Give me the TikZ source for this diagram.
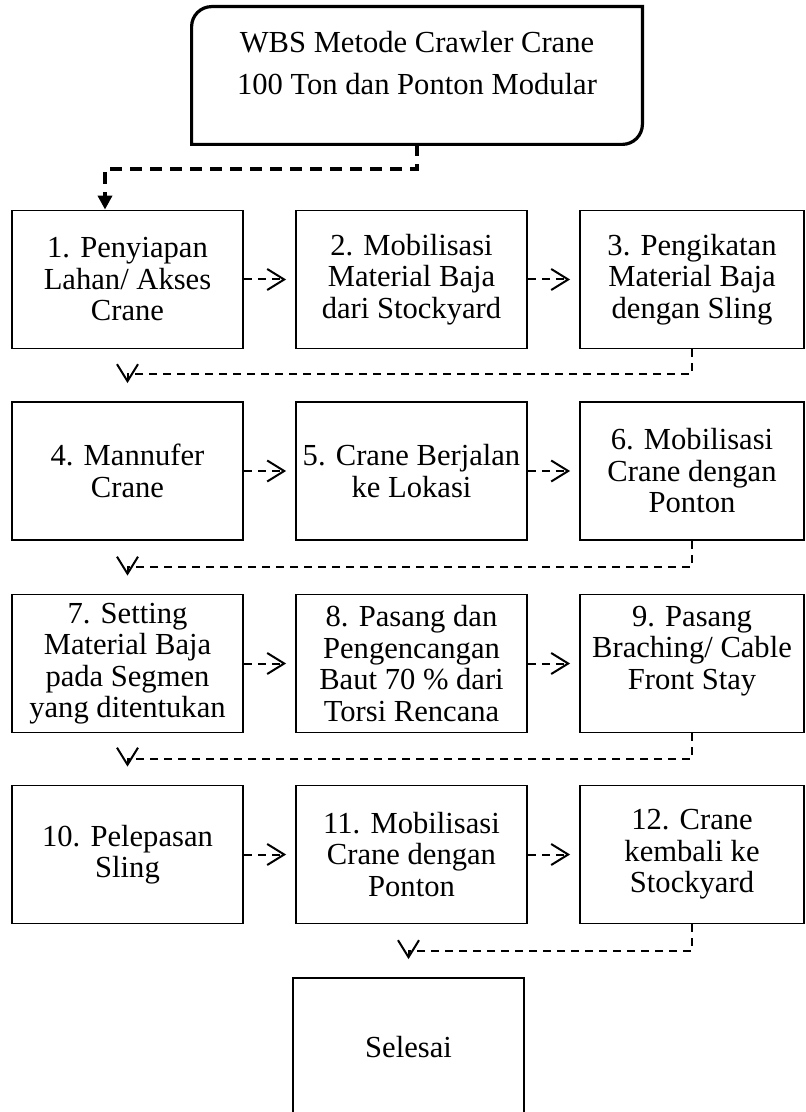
\documentclass[tikz,border=0pt]{standalone}
\usepackage{fontspec}
\setmainfont{Liberation Serif}
\usetikzlibrary{arrows.meta}

\begin{document}
\begin{tikzpicture}[x=0.5pt,y=-0.5pt,
  every node/.style={font=\fontsize{15.3}{15.75}\selectfont, align=center},
  box/.style={draw, line width=0.9pt, minimum width=115.5pt, minimum height=69pt, inner sep=2pt},
  flow/.style={line width=1pt, dash pattern=on 4pt off 3pt, shorten >=4.5pt,
    -{Straight Barb[length=8.5pt,width=10.5pt]}},
  topline/.style={line width=2pt, dash pattern=on 6pt off 4pt,
    -{Triangle[length=7pt,width=7pt]}}]
  \useasboundingbox (0,0) rectangle (805,1112);

  \node[minimum width=225pt, minimum height=68.5pt] (wbs) at (417,75.5) {};
  \draw[line width=1.6pt] ([yshift=-10pt]wbs.north west) .. controls ([yshift=-4.5pt]wbs.north west) and ([xshift=4.5pt]wbs.north west) .. ([xshift=10pt]wbs.north west)
    -- (wbs.north east) -- ([yshift=10pt]wbs.south east)
    .. controls ([yshift=4.5pt]wbs.south east) and ([xshift=-4.5pt]wbs.south east) .. ([xshift=-10pt]wbs.south east)
    -- (wbs.south west) -- cycle;
  \node[font=\fontsize{15.3}{21}\selectfont] (title) at (417,63.5) {WBS Metode Crawler Crane\\100 Ton dan Ponton Modular};

  \node[box] (b1) at (127.5,279.5) {1. Penyiapan\\Lahan/ Akses\\Crane};
  \node[box] (b2) at (411.5,279.5) {2. Mobilisasi\\Material Baja\\dari Stockyard};
  \node[box, minimum width=112pt] (b3) at (692,279.5) {3. Pengikatan\\Material Baja\\dengan Sling};

  \node[box] (b4) at (127.5,471) {4. Mannufer\\Crane};
  \node[box] (b5) at (411.5,471) {5. Crane Berjalan\\ke Lokasi};
  \node[box, minimum width=112pt] (b6) at (692,471) {6. Mobilisasi\\Crane dengan\\Ponton};

  \node[box] (b7) at (127.5,663.5) {7. Setting\\Material Baja\\pada Segmen\\yang ditentukan};
  \node[box] (b8) at (411.5,663.5) {8. Pasang dan\\Pengencangan\\Baut 70 \% dari\\Torsi Rencana};
  \node[box, minimum width=112pt] (b9) at (692,663.5) {9. Pasang\\Braching/ Cable\\Front Stay\\~};

  \node[box] (b10) at (127.5,854.5) {10. Pelepasan\\Sling};
  \node[box] (b11) at (411.5,854.5) {11. Mobilisasi\\Crane dengan\\Ponton};
  \node[box, minimum width=112pt] (b12) at (692,854.5) {12. Crane\\kembali ke\\Stockyard};

  \node[box] (fin) at (408.5,1047) {Selesai};

  \draw[topline] (wbs.south) -- ++(0,25) -| ([xshift=-11.25pt]b1.north);

  \draw[flow] (b1) -- (b2);
  \draw[flow] (b2) -- (b3);
  \draw[flow] (b3.south) -- ++(0,25) -| ([yshift=4.5pt]b4.north);
  \draw[flow] (b4) -- (b5);
  \draw[flow] (b5) -- (b6);
  \draw[flow] (b6.south) -- ++(0,26) -| ([yshift=4.5pt]b7.north);
  \draw[flow] (b7) -- (b8);
  \draw[flow] (b8) -- (b9);
  \draw[flow] (b9.south) -- ++(0,26) -| ([yshift=4.5pt]b10.north);
  \draw[flow] (b10) -- (b11);
  \draw[flow] (b11) -- (b12);
  \draw[flow] (b12.south) -- ++(0,27) -| ([yshift=4.5pt]fin.north);
\end{tikzpicture}
\end{document}
